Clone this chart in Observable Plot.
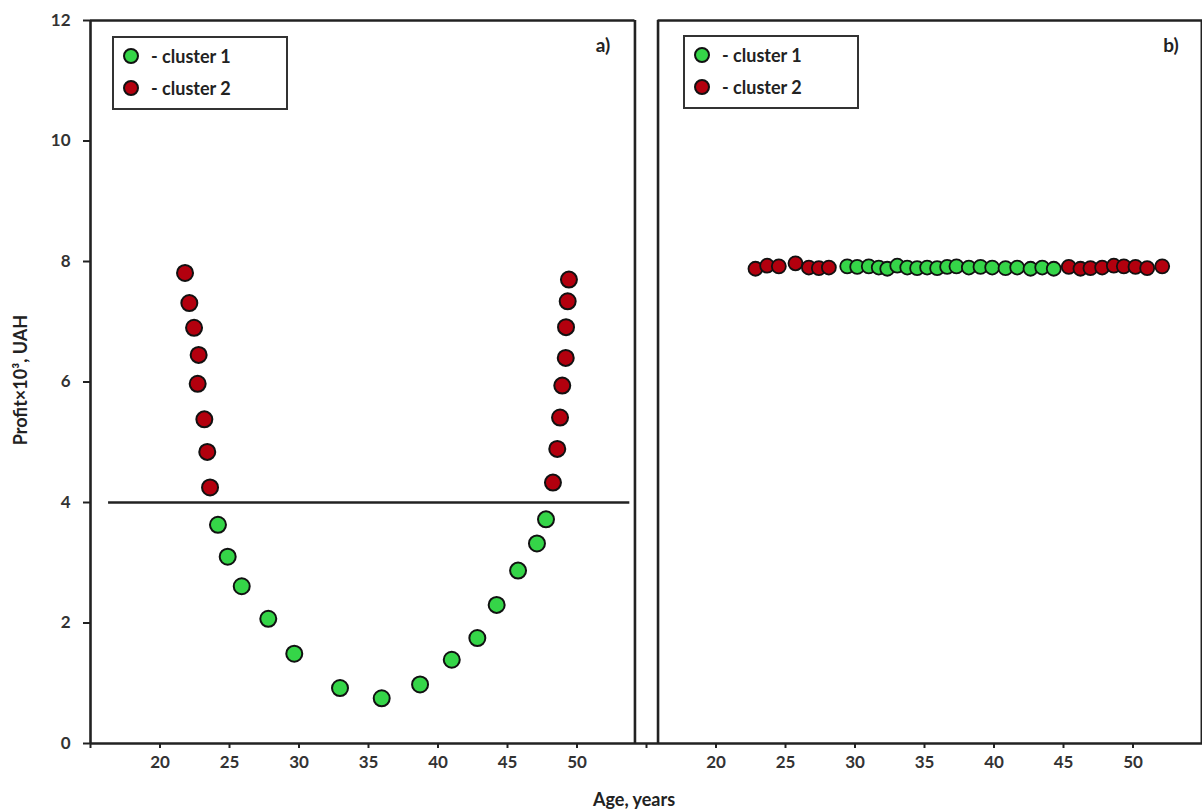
<!DOCTYPE html>
<html>
<head>
<meta charset="utf-8">
<script src="https://cdn.jsdelivr.net/npm/d3@7"></script>
<script src="https://cdn.jsdelivr.net/npm/@observablehq/plot@0.6"></script>
<style>
  html, body { margin: 0; padding: 0; background: #fff; }
  #wrap { position: relative; width: 1202px; height: 812px; overflow: hidden; font-family: Lato, "Open Sans", sans-serif; font-weight: 700; color: #222; }
  #wrap svg { position: absolute; left: 0; top: 0; }
  .txt { position: absolute; white-space: nowrap; font-weight: 700; color: #222; }
  .legend { position: absolute; border: 2px solid #333; background: #fff; box-sizing: border-box; }
  .legrow { position: absolute; display: flex; align-items: center; font-size: 18px; }
  .legrow svg { position: static !important; margin-right: 11px; }
</style>
</head>
<body>
<div id="wrap"></div>
<script>
// ---------- data ----------
const clusters = ["cluster 1", "cluster 2"];
const clusterColors = ["#35d548", "#b3000e"];

// panel a) cluster 1
const ageA1 = [24.17, 24.87, 25.88, 27.79, 29.66, 32.95, 35.95, 38.71, 40.99, 42.83, 44.22, 45.76, 47.12, 47.77];
const profitA1 = [3.63, 3.10, 2.61, 2.07, 1.49, 0.92, 0.75, 0.98, 1.39, 1.75, 2.30, 2.87, 3.32, 3.72];
// panel a) cluster 2
const ageA2 = [21.80, 22.11, 22.45, 22.78, 22.71, 23.19, 23.40, 23.60, 49.42, 49.33, 49.21, 49.19, 48.94, 48.78, 48.58, 48.27];
const profitA2 = [7.81, 7.31, 6.90, 6.45, 5.97, 5.38, 4.84, 4.25, 7.70, 7.34, 6.91, 6.40, 5.94, 5.41, 4.89, 4.33];
// panel a) separating line
const thresholdProfit = 4;
const thresholdAgeFrom = 16.3;
const thresholdAgeTo = 53.8;

// panel b) cluster 1
const ageB1 = [29.44, 30.16, 30.99, 31.71, 32.32, 33.04, 33.76, 34.47, 35.19, 35.91, 36.63, 37.30, 38.19, 39.03, 39.87, 40.83, 41.67, 42.63, 43.47, 44.30];
const profitB1 = [7.92, 7.91, 7.92, 7.90, 7.88, 7.93, 7.90, 7.89, 7.90, 7.89, 7.91, 7.92, 7.90, 7.91, 7.90, 7.89, 7.90, 7.88, 7.90, 7.88];
// panel b) cluster 2
const ageB2 = [22.84, 23.68, 24.52, 25.72, 26.68, 27.40, 28.12, 45.38, 46.22, 46.94, 47.78, 48.62, 49.34, 50.18, 51.02, 52.10];
const profitB2 = [7.88, 7.93, 7.92, 7.97, 7.90, 7.89, 7.90, 7.91, 7.88, 7.89, 7.90, 7.93, 7.92, 7.91, 7.89, 7.92];

// axes
const xDomain = [15, 55];
const yDomain = [0, 12];
const xTicks = [15, 20, 25, 30, 35, 40, 45, 50];
const yTicks = [0, 2, 4, 6, 8, 10, 12];
const panelARightEdge = 54.17;
const panelBLeftEdge = 15.83;
const panelBRightEdge = 54.93;

const xTitle = "Age, years";
const yTitle = "Profit×10³, UAH";

// ---------- build ----------
const toRows = (ages, profits, c) => ages.map((a, i) => ({age: a, profit: profits[i], cluster: c}));
const dataA = [...toRows(ageA1, profitA1, clusters[0]), ...toRows(ageA2, profitA2, clusters[1])];
const dataB = [...toRows(ageB1, profitB1, clusters[0]), ...toRows(ageB2, profitB2, clusters[1])];

const colorOpt = {domain: clusters, range: clusterColors};
const baseStyle = {fontFamily: "Lato, 'Open Sans', sans-serif", fontSize: "17px", fontWeight: 700, color: "#333", overflow: "visible"};
const ink = "#222";
const tickFmt = d => d === 15 ? "" : String(d);
const lw = 2.6;

const plotA = Plot.plot({
  width: 646, height: 812,
  marginLeft: 90, marginRight: 0, marginTop: 20, marginBottom: 69,
  x: {domain: xDomain, axis: null},
  y: {domain: yDomain, axis: null},
  color: colorOpt,
  style: {...baseStyle, background: "#fff"},
  marks: [
    Plot.ruleY([thresholdProfit], {x1: thresholdAgeFrom, x2: thresholdAgeTo, stroke: ink, strokeWidth: 2.4}),
    Plot.ruleX([xDomain[0]], {y1: yDomain[0], y2: yDomain[1], stroke: ink, strokeWidth: lw}),
    Plot.ruleX([panelARightEdge], {y1: yDomain[0], y2: yDomain[1], stroke: ink, strokeWidth: lw}),
    Plot.ruleY([yDomain[1]], {x1: xDomain[0], x2: panelARightEdge, stroke: ink, strokeWidth: lw}),
    Plot.ruleY([yDomain[0]], {x1: xDomain[0], x2: xDomain[1], stroke: ink, strokeWidth: lw}),
    Plot.axisX({ticks: xTicks, tickFormat: tickFmt, tickSize: 5, tickPadding: 7, stroke: ink, strokeWidth: 2, fill: "#333", label: null}),
    Plot.axisY({ticks: yTicks, tickSize: 7, tickPadding: 13, stroke: ink, strokeWidth: 2, fill: "#333", label: null}),
    Plot.dot(dataA, {x: "age", y: "profit", fill: "cluster", r: 8, stroke: "#111", strokeWidth: 2})
  ]
});

const plotB = Plot.plot({
  width: 1202, height: 812,
  marginLeft: 646, marginRight: 0, marginTop: 20, marginBottom: 69,
  x: {domain: xDomain, axis: null},
  y: {domain: yDomain, axis: null},
  color: colorOpt,
  style: {...baseStyle, background: "transparent"},
  marks: [
    Plot.ruleX([panelBLeftEdge], {y1: yDomain[0], y2: yDomain[1], stroke: ink, strokeWidth: lw}),
    Plot.ruleX([panelBRightEdge], {y1: yDomain[0], y2: yDomain[1], stroke: ink, strokeWidth: 2}),
    Plot.ruleY([yDomain[1]], {x1: panelBLeftEdge, x2: xDomain[1], stroke: ink, strokeWidth: lw}),
    Plot.ruleY([yDomain[0]], {x1: xDomain[0], x2: xDomain[1], stroke: ink, strokeWidth: lw}),
    Plot.axisX({ticks: xTicks, tickFormat: tickFmt, tickSize: 5, tickPadding: 7, stroke: ink, strokeWidth: 2, fill: "#333", label: null}),
    Plot.dot(dataB, {x: "age", y: "profit", fill: "cluster", r: 7, stroke: "#111", strokeWidth: 1.8})
  ]
});

const wrap = document.getElementById("wrap");
wrap.appendChild(plotA);
wrap.appendChild(plotB);

function addText(str, css) {
  const d = document.createElement("div");
  d.className = "txt";
  d.textContent = str;
  Object.assign(d.style, css);
  wrap.appendChild(d);
  return d;
}

// axis titles and panel labels
addText(yTitle, {left: "20px", top: "380px", fontSize: "18px", transform: "translate(-50%,-50%) rotate(-90deg)"});
addText(xTitle, {left: "634px", top: "799px", fontSize: "18px", transform: "translate(-50%,-50%)"});
addText("a)", {left: "603px", top: "44px", fontSize: "19px", transform: "translate(-50%,-50%)"});
addText("b)", {left: "1171px", top: "44px", fontSize: "19px", transform: "translate(-50%,-50%)"});

// legends
function addLegend(left, top, w, h, markerR) {
  const box = document.createElement("div");
  box.className = "legend";
  Object.assign(box.style, {left: left + "px", top: top + "px", width: w + "px", height: h + "px"});
  clusters.forEach((c, i) => {
    const row = document.createElement("div");
    row.className = "legrow";
    Object.assign(row.style, {left: "8px", top: (i === 0 ? 5 : 37) + "px", height: "26px"});
    const s = markerR * 2 + 4;
    row.innerHTML = `<svg width="${s}" height="${s}"><circle cx="${s/2}" cy="${s/2}" r="${markerR}" fill="${clusterColors[i]}" stroke="#111" stroke-width="2"/></svg><span>- ${c}</span>`;
    box.appendChild(row);
  });
  wrap.appendChild(box);
}
addLegend(112, 36, 176, 74, 7);
addLegend(683, 35, 176, 74, 7);
</script>
</body>
</html>
